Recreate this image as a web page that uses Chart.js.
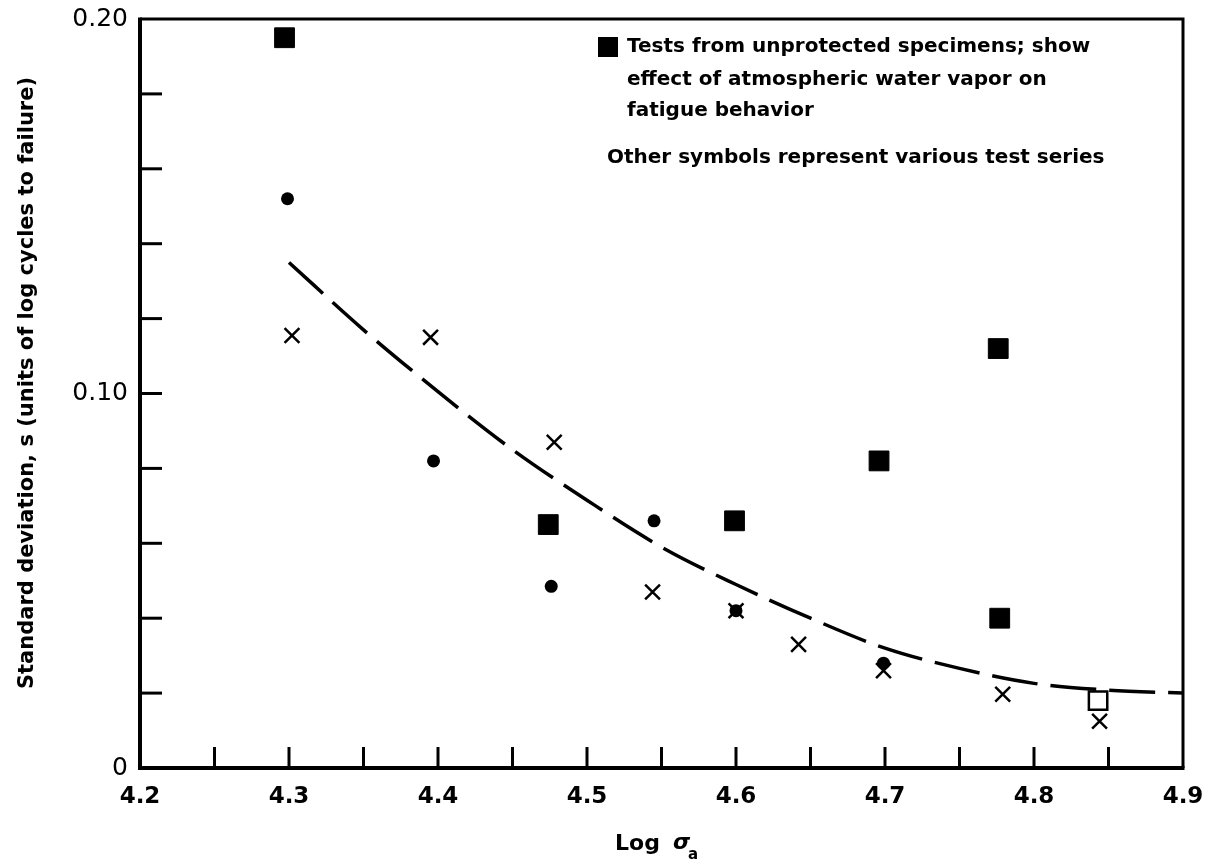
<!DOCTYPE html>
<html>
<head>
<meta charset="utf-8">
<script src="https://cdn.jsdelivr.net/npm/chart.js@4.4.1/dist/chart.umd.min.js"></script>
<style>
  html, body { margin: 0; padding: 0; background: #fff; }
  #wrap { width: 1220px; height: 864px; }
</style>
</head>
<body>
<div id="wrap"><canvas id="fatigueChart" width="1220" height="864"></canvas></div>
<script>
// ============ Data ============
const unprotectedX = [4.297, 4.474, 4.599, 4.696, 4.776, 4.777];
const unprotectedY = [0.195, 0.065, 0.066, 0.082, 0.112, 0.040];

const openSquareX = [4.843];
const openSquareY = [0.018];

const dotX = [4.299, 4.397, 4.476, 4.545, 4.600, 4.699];
const dotY = [0.152, 0.082, 0.0485, 0.066, 0.042, 0.028];

const crossX = [4.302, 4.395, 4.478, 4.544, 4.600, 4.642, 4.699, 4.779, 4.844];
const crossY = [0.1155, 0.115, 0.087, 0.047, 0.042, 0.033, 0.026, 0.0197, 0.0125];

// fitted dashed curve
const curveX = [4.30, 4.35, 4.40, 4.45, 4.50, 4.55, 4.60, 4.65, 4.70, 4.75, 4.80, 4.85, 4.90];
const curveY = [0.135, 0.117, 0.1005, 0.085, 0.0715, 0.059, 0.049, 0.040, 0.032, 0.0266, 0.0226, 0.0208, 0.020];

// axes
const xTickLabels = [4.2, 4.3, 4.4, 4.5, 4.6, 4.7, 4.8, 4.9];
const xMinorTicks = [4.25, 4.3, 4.35, 4.4, 4.45, 4.5, 4.55, 4.6, 4.65, 4.7, 4.75, 4.8, 4.85];
const yTickLabels = [0, 0.10, 0.20];
const yMinorTicks = [0.02, 0.04, 0.06, 0.08, 0.10, 0.12, 0.14, 0.16, 0.18];

const legendLines = [
  "Tests from unprotected specimens; show",
  "effect of atmospheric water vapor on",
  "fatigue behavior"
];
const legendNote = "Other symbols represent various test series";
const yTitle = "Standard deviation, s (units of log cycles to failure)";

const FONT = '"DejaVu Sans", sans-serif';
const zip = (xs, ys) => xs.map((v, i) => ({ x: v, y: ys[i] }));

// ============ Frame, inward ticks, texts ============
const figureDecor = {
  id: "figureDecor",
  beforeDatasetsDraw(chart) {
    const { ctx, chartArea: a, scales: { x, y } } = chart;
    const line = (x1, y1, x2, y2) => { ctx.beginPath(); ctx.moveTo(x1, y1); ctx.lineTo(x2, y2); ctx.stroke(); };
    ctx.save();
    ctx.strokeStyle = "#000";
    ctx.lineWidth = 3;
    xMinorTicks.forEach(v => { const px = x.getPixelForValue(v); line(px, a.bottom, px, a.bottom - 21); });
    yMinorTicks.forEach(v => { const py = y.getPixelForValue(v); line(a.left, py, a.left + 22, py); });
    ctx.lineWidth = 3;
    ctx.beginPath();
    ctx.moveTo(a.left, a.top); ctx.lineTo(a.right, a.top); ctx.lineTo(a.right, a.bottom);
    ctx.stroke();
    ctx.lineWidth = 4;
    ctx.beginPath();
    ctx.moveTo(a.left, a.top - 1.5); ctx.lineTo(a.left, a.bottom); ctx.lineTo(a.right + 1.5, a.bottom);
    ctx.stroke();
    ctx.restore();
  },
  afterDraw(chart) {
    const { ctx } = chart;
    ctx.save();
    ctx.fillStyle = "#000";
    ctx.textBaseline = "middle";
    ctx.textAlign = "left";
    ctx.font = "600 20px " + FONT;
    ctx.fillRect(598, 37, 20, 20);
    legendLines.forEach((t, i) => ctx.fillText(t, 627, [47, 80, 111][i]));
    ctx.fillText(legendNote, 607, 158);

    // x title: Log sigma_a
    ctx.font = "600 22px " + FONT;
    ctx.fillText("Log", 615, 844);
    ctx.font = "italic 600 22px " + FONT;
    ctx.fillText("σ", 673, 843);
    ctx.font = "600 15px " + FONT;
    ctx.fillText("a", 688, 855);

    // y title
    ctx.translate(28, 383);
    ctx.rotate(-Math.PI / 2);
    ctx.textAlign = "center";
    ctx.font = "600 21px " + FONT;
    ctx.fillText(yTitle, 0, 0);
    ctx.restore();
  }
};

// ============ Chart ============
const ctx = document.getElementById("fatigueChart").getContext("2d");
new Chart(ctx, {
  type: "scatter",
  data: {
    datasets: [
      {
        label: "Unprotected specimens",
        data: zip(unprotectedX, unprotectedY),
        pointStyle: "rect",
        pointRadius: 14,
        backgroundColor: "#000",
        borderColor: "#000",
        borderWidth: 1,
        order: 1
      },
      {
        label: "Open square",
        data: zip(openSquareX, openSquareY),
        pointStyle: "rect",
        pointRadius: 13,
        backgroundColor: "#fff",
        borderColor: "#000",
        borderWidth: 2.5,
        order: 1
      },
      {
        label: "Dots",
        data: zip(dotX, dotY),
        pointStyle: "circle",
        pointRadius: 6.5,
        backgroundColor: "#000",
        borderColor: "#000",
        borderWidth: 0,
        order: 1
      },
      {
        label: "Crosses",
        data: zip(crossX, crossY),
        pointStyle: "crossRot",
        pointRadius: 10.5,
        borderColor: "#000",
        borderWidth: 2.5,
        order: 1
      },
      {
        label: "Fit",
        data: zip(curveX, curveY),
        showLine: true,
        pointRadius: 0,
        borderColor: "#000",
        borderWidth: 3.5,
        borderDash: [46, 13],
        cubicInterpolationMode: "monotone",
        order: 10
      }
    ]
  },
  options: {
    responsive: false,
    animation: false,
    events: [],
    layout: { padding: { top: 9, right: 37, left: 0, bottom: 0 } },
    plugins: { legend: { display: false }, tooltip: { enabled: false } },
    scales: {
      x: {
        type: "linear",
        min: 4.2,
        max: 4.9,
        afterBuildTicks: s => { s.ticks = xTickLabels.map(v => ({ value: v })); },
        afterFit: s => { s.height = 96; },
        grid: { display: false },
        border: { display: false },
        ticks: {
          autoSkip: false,
          maxRotation: 0,
          padding: 7,
          color: "#000",
          font: { family: FONT, size: 23, weight: "600" },
          callback: v => Number(v).toFixed(1)
        }
      },
      y: {
        type: "linear",
        min: 0,
        max: 0.2,
        afterBuildTicks: s => { s.ticks = yTickLabels.map(v => ({ value: v })); },
        afterFit: s => { s.width = 140; },
        grid: { display: false },
        border: { display: false },
        ticks: {
          autoSkip: false,
          padding: 4,
          color: "#000",
          font: { family: FONT, size: 25, weight: "normal" },
          callback: v => (v === 0 ? "0" : Number(v).toFixed(2))
        }
      }
    }
  },
  plugins: [figureDecor]
});
</script>
</body>
</html>
